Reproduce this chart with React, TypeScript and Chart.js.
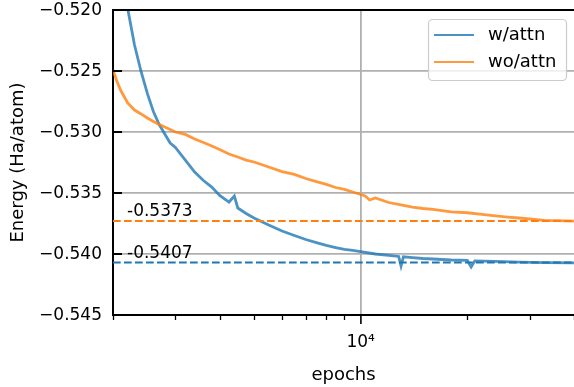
import { useEffect, useRef } from 'react';
import { Chart, registerables } from 'chart.js';

Chart.register(...registerables);

const FONT = "'DejaVu Sans', sans-serif";

const wAttnEpochs = [2000, 2100, 2200, 2300, 2400, 2500, 2600, 2700, 2800, 2900, 3000, 3200, 3400, 3600, 3800, 4000, 4250, 4400, 4500, 4750, 5000, 5500, 6000, 6500, 7000, 7500, 8000, 8500, 9000, 9500, 10000, 11000, 12000, 12800, 13000, 13200, 14000, 15000, 16000, 18000, 20000, 20500, 21000, 24000, 28000, 33000, 40000];
const wAttnEnergy = [-0.51426, -0.51713, -0.51988, -0.52287, -0.52504, -0.52684, -0.52832, -0.52939, -0.53016, -0.5309, -0.53127, -0.5323, -0.53328, -0.53398, -0.53451, -0.5352, -0.53574, -0.53525, -0.53623, -0.53668, -0.53705, -0.53762, -0.53811, -0.53848, -0.53881, -0.53906, -0.5393, -0.53947, -0.53963, -0.53971, -0.53981, -0.54, -0.54012, -0.5402, -0.54098, -0.54023, -0.5403, -0.54037, -0.54041, -0.54049, -0.54053, -0.54107, -0.54056, -0.5406, -0.54066, -0.5407, -0.54072];

const woAttnEpochs = [2000, 2050, 2100, 2200, 2300, 2400, 2500, 2600, 2700, 2800, 2900, 3000, 3200, 3400, 3600, 3800, 4000, 4250, 4500, 4750, 5000, 5500, 6000, 6500, 7000, 7500, 8000, 8500, 9000, 9500, 10000, 10300, 10600, 11000, 12000, 13000, 14000, 15000, 16000, 18000, 20000, 22000, 24000, 26000, 28000, 30000, 33000, 36000, 40000];
const woAttnEnergy = [-0.52492, -0.52582, -0.52656, -0.52762, -0.5282, -0.52852, -0.52885, -0.52914, -0.52939, -0.52959, -0.5298, -0.53, -0.5302, -0.53057, -0.53086, -0.53115, -0.53143, -0.5318, -0.53205, -0.5323, -0.53246, -0.53287, -0.53324, -0.53348, -0.53381, -0.53407, -0.5343, -0.53455, -0.53471, -0.53492, -0.53512, -0.53525, -0.53557, -0.53541, -0.53578, -0.53598, -0.53615, -0.53627, -0.53635, -0.53654, -0.53662, -0.53676, -0.53687, -0.53697, -0.53705, -0.53713, -0.53724, -0.53726, -0.5373];

const refValues = [-0.5373, -0.5407];
const refColors = ['#ff7f0e', '#1f77b4'];
const seriesLabels = ['w/attn', 'wo/attn'];
const seriesColors = ['rgba(31,119,180,0.8)', 'rgba(255,127,14,0.8)'];

const xRange = [2000, 40000];
const yRange = [-0.545, -0.52];
const yTicks = [-0.545, -0.54, -0.535, -0.53, -0.525, -0.52];
const xMajorTicks = [10000];
const xMinorTicks = [2000, 3000, 4000, 5000, 6000, 7000, 8000, 9000, 20000, 30000, 40000];

const fmtY = (v: number) => (v < 0 ? '\u2212' : '') + Math.abs(v).toFixed(3);
const fmtX = (v: number) => '10' + '\u2070\u00b9\u00b2\u00b3\u2074\u2075\u2076\u2077\u2078\u2079'[Math.round(Math.log10(v))];

const decorPlugin = {
  id: 'decor',
  afterDraw(chart: any) {
    const { ctx, chartArea: a, scales } = chart;
    const xs = scales.x;
    const ys = scales.y;
    ctx.save();
    // top spine
    ctx.strokeStyle = '#000';
    ctx.lineWidth = 2;
    ctx.beginPath();
    ctx.moveTo(a.left - 1, a.top);
    ctx.lineTo(a.right, a.top);
    ctx.stroke();
    // y ticks (inward) and labels
    ctx.fillStyle = '#000';
    ctx.font = `17px ${FONT}`;
    ctx.textAlign = 'right';
    ctx.textBaseline = 'middle';
    yTicks.forEach((v) => {
      const y = Math.round(ys.getPixelForValue(v));
      ctx.lineWidth = 2;
      ctx.beginPath();
      ctx.moveTo(a.left, y);
      ctx.lineTo(a.left + 9, y);
      ctx.stroke();
      ctx.fillText(fmtY(v), a.left - 11, y + 1);
    });
    // x minor ticks
    ctx.lineWidth = 1.3;
    xMinorTicks.forEach((v) => {
      const x = Math.round(xs.getPixelForValue(v)) + 0.5;
      ctx.beginPath();
      ctx.moveTo(x, a.bottom);
      ctx.lineTo(x, a.bottom + 5);
      ctx.stroke();
    });
    // reference labels
    ctx.textAlign = 'left';
    ctx.textBaseline = 'alphabetic';
    refValues.forEach((v) => {
      const y = ys.getPixelForValue(v);
      ctx.fillText(v.toFixed(4), a.left + 14, y - 5);
    });
    // legend
    const bw = 138;
    const bh = 61;
    const bx = a.right - 8 - bw;
    const by = a.top + 9;
    ctx.beginPath();
    ctx.roundRect(bx + 0.5, by + 0.5, bw, bh, 4);
    ctx.fillStyle = 'rgba(255,255,255,0.8)';
    ctx.fill();
    ctx.strokeStyle = '#cccccc';
    ctx.lineWidth = 1.2;
    ctx.stroke();
    ctx.font = `18px ${FONT}`;
    ctx.textBaseline = 'middle';
    seriesLabels.forEach((lab, i) => {
      const cy = by + 16 + i * 27;
      ctx.strokeStyle = seriesColors[i];
      ctx.lineWidth = 2;
      ctx.beginPath();
      ctx.moveTo(bx + 6, cy);
      ctx.lineTo(bx + 46, cy);
      ctx.stroke();
      ctx.fillStyle = '#000';
      ctx.fillText(lab, bx + 60, cy);
    });
    ctx.restore();
  },
};

export default function App() {
  const ref = useRef<HTMLCanvasElement>(null);
  useEffect(() => {
    const toPts = (xs: number[], ys: number[]) => xs.map((x, i) => ({ x, y: ys[i] }));
    const datasets: any[] = [
      ...refValues.map((v, i) => ({
        label: 'ref' + i,
        data: xRange.map((x) => ({ x, y: v })),
        borderColor: refColors[i],
        borderWidth: 2,
        borderDash: [7.7, 3.3],
        pointRadius: 0,
        order: 0,
      })),
      {
        label: seriesLabels[0],
        data: toPts(wAttnEpochs, wAttnEnergy),
        borderColor: seriesColors[0],
        borderWidth: 2.8,
        pointRadius: 0,
        order: 2,
      },
      {
        label: seriesLabels[1],
        data: toPts(woAttnEpochs, woAttnEnergy),
        borderColor: seriesColors[1],
        borderWidth: 2.8,
        pointRadius: 0,
        order: 1,
      },
    ];
    const chart = new Chart(ref.current as HTMLCanvasElement, {
      type: 'line',
      data: { datasets },
      plugins: [decorPlugin],
      options: {
        animation: false,
        responsive: false,
        devicePixelRatio: 1,
        layout: { padding: { top: 10, left: 0, right: 0, bottom: 0 } },
        plugins: { legend: { display: false }, tooltip: { enabled: false } },
        scales: {
          x: {
            type: 'logarithmic',
            min: xRange[0],
            max: xRange[1],
            afterBuildTicks: (s: any) => {
              s.ticks = xMajorTicks.map((v) => ({ value: v, major: true }));
            },
            afterFit: (s: any) => {
              s.height = 72;
              s.paddingLeft = 0;
              s.paddingRight = 0;
            },
            ticks: {
              autoSkip: false,
              maxRotation: 0,
              padding: 8,
              color: '#000',
              font: { family: FONT, size: 17 },
              callback: (v: any) => fmtX(Number(v)),
            },
            grid: { color: '#b0b0b0', lineWidth: 1.8, tickColor: '#000', tickWidth: 1.6, tickLength: 9 },
            border: { display: true, color: '#000', width: 2 },
            title: {
              display: true,
              text: 'epochs',
              color: '#000',
              font: { family: FONT, size: 18 },
              padding: { top: 0, bottom: 1 },
            },
          },
          y: {
            type: 'linear',
            min: yRange[0],
            max: yRange[1],
            afterBuildTicks: (s: any) => {
              s.ticks = yTicks.map((v) => ({ value: v }));
            },
            afterFit: (s: any) => {
              s.width = 113;
              s.paddingTop = 0;
              s.paddingBottom = 0;
            },
            ticks: { display: false },
            grid: {
              drawTicks: false,
              lineWidth: 1.8,
              color: (c: any) =>
                c.tick && (Math.abs(c.tick.value - yRange[0]) < 1e-9 || Math.abs(c.tick.value - yRange[1]) < 1e-9)
                  ? 'rgba(0,0,0,0)'
                  : '#b0b0b0',
            },
            border: { display: true, color: '#000', width: 2 },
            title: {
              display: true,
              text: 'Energy (Ha/atom)',
              color: '#000',
              font: { family: FONT, size: 18 },
              padding: { top: 8, bottom: 0 },
            },
          },
        },
      },
    });
    return () => chart.destroy();
  }, []);
  return (
    <div style={{ position: 'absolute', left: 0, top: 0, width: 574, height: 387 }}>
      <canvas ref={ref} width={574} height={387} style={{ display: 'block' }} />
    </div>
  );
}
